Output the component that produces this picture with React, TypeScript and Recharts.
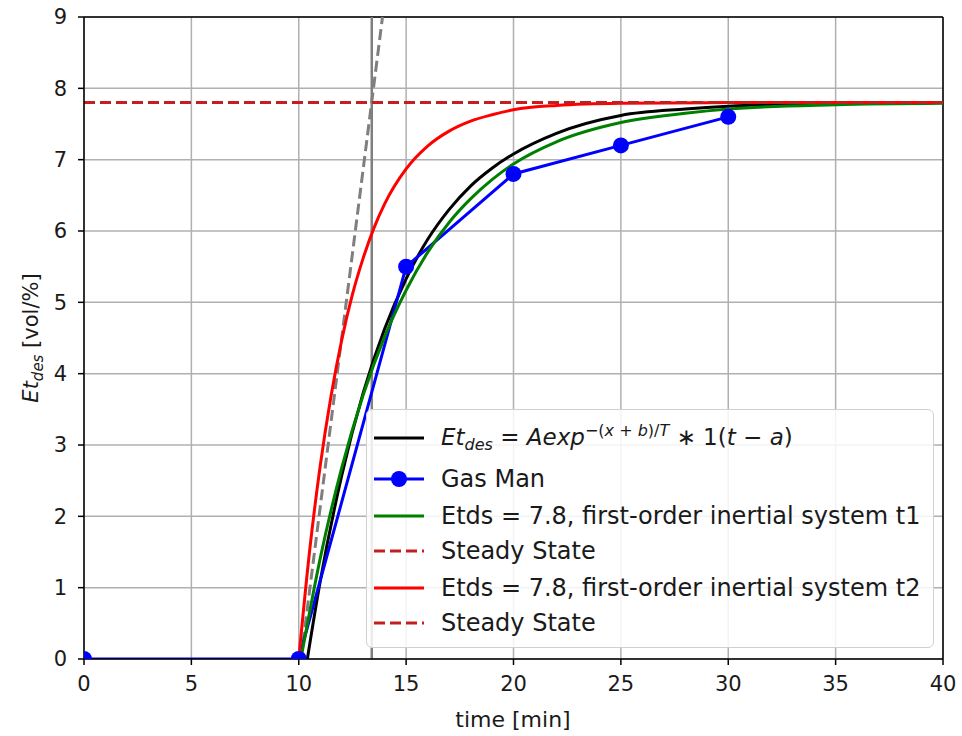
import { LineChart, Line, XAxis, YAxis, CartesianGrid, ReferenceLine } from 'recharts';

// time [min] / Et_des values
const gasManT = [0, 10, 15, 20, 25, 30];
const gasManV = [0, 0, 5.5, 6.8, 7.2, 7.6];

const blackT = [10.4, 11, 12, 13, 14, 15, 16, 17, 18, 19, 20, 22, 25, 28, 30, 35, 40];
const blackV = [0, 1.09, 2.57, 3.73, 4.63, 5.33, 5.88, 6.3, 6.63, 6.88, 7.08, 7.37, 7.62, 7.71, 7.75, 7.79, 7.8];

const greenT = [10.1, 11, 12, 13, 14, 15, 16, 17, 18, 19, 20, 22, 25, 28, 30, 35, 40];
const greenV = [0, 1.41, 2.68, 3.7, 4.52, 5.17, 5.7, 6.12, 6.45, 6.72, 6.94, 7.25, 7.52, 7.65, 7.71, 7.77, 7.79];

const redT = [10, 10.5, 11, 11.5, 12, 12.5, 13, 13.5, 14, 15, 16, 17, 18, 19, 20, 22, 25, 30, 35, 40];
const redV = [0, 1.5, 2.71, 3.68, 4.47, 5.11, 5.62, 6.04, 6.38, 6.87, 7.19, 7.4, 7.54, 7.63, 7.7, 7.76, 7.79, 7.8, 7.8, 7.8];

const steadyT = [0, 40];
const steadyV = [7.8, 7.8];

const tangentT = [10.1, 13.9];
const tangentV = [0, 9];

const markerT = 13.4;

const xTicks = [0, 5, 10, 15, 20, 25, 30, 35, 40];
const yTicks = [0, 1, 2, 3, 4, 5, 6, 7, 8, 9];

const toRows = (ts: number[], vs: number[]) => ts.map((t, i) => ({ t, v: vs[i] }));

const FONT = '"DejaVu Sans", sans-serif';

const YLabel = () => (
  <text
    x={38}
    y={338}
    transform="rotate(-90 38 338)"
    textAnchor="middle"
    fontSize={21}
    fill="#1a1a1a"
    fontFamily={FONT}
  >
    <tspan fontStyle="italic">Et</tspan>
    <tspan fontStyle="italic" fontSize={15} dy={5}>des</tspan>
    <tspan dy={-5}> [vol/%]</tspan>
  </text>
);

const XLabel = () => (
  <text x={513} y={727} textAnchor="middle" fontSize={22} fill="#1a1a1a" fontFamily={FONT}>
    time [min]
  </text>
);

const legendItems = [
  { color: '#000000', dash: false, dot: false, label: 'math' },
  { color: '#0000ff', dash: false, dot: true, label: 'Gas Man' },
  { color: '#008000', dash: false, dot: false, label: 'Etds = 7.8, first-order inertial system t1' },
  { color: '#c41e1e', dash: true, dot: false, label: 'Steady State' },
  { color: '#ff0000', dash: false, dot: false, label: 'Etds = 7.8, first-order inertial system t2' },
  { color: '#c41e1e', dash: true, dot: false, label: 'Steady State' },
];
const legendCenters = [28, 69, 106, 141, 178, 213];

function Legend() {
  return (
    <div
      style={{
        position: 'absolute',
        left: 366,
        top: 409,
        width: 566,
        height: 237,
        border: '1.5px solid #d0d0d0',
        borderRadius: 6,
        background: 'rgba(255,255,255,0.85)',
        fontFamily: FONT,
        fontSize: 24,
        color: '#1a1a1a',
      }}
    >
      {legendItems.map((it, i) => (
        <div
          key={i}
          style={{
            position: 'absolute',
            left: 6,
            top: legendCenters[i] - 18,
            height: 36,
            display: 'flex',
            alignItems: 'center',
            whiteSpace: 'nowrap',
          }}
        >
          <svg width={52} height={20} style={{ marginRight: 16 }}>
            <line
              x1={1}
              y1={10}
              x2={51}
              y2={10}
              stroke={it.color}
              strokeWidth={3}
              strokeDasharray={it.dash ? '11 5' : undefined}
            />
            {it.dot && <circle cx={26} cy={10} r={8} fill={it.color} />}
          </svg>
          {it.label === 'math' ? (
            <span style={{ fontSize: 23 }}>
              <i>Et</i>
              <sub style={{ fontStyle: 'italic', fontSize: 16 }}>des</sub>
              {' = '}
              <i>Aexp</i>
              <sup style={{ fontSize: 16 }}>
                −(<i>x</i> + <i>b</i>)/<i>T</i>
              </sup>
              {' ∗ 1('}
              <i>t</i>
              {' − '}
              <i>a</i>)
            </span>
          ) : (
            <span>{it.label}</span>
          )}
        </div>
      ))}
    </div>
  );
}

export default function App() {
  return (
    <div style={{ position: 'absolute', left: 0, top: 0, width: 962, height: 736, background: '#fff' }}>
      <LineChart
        width={962}
        height={736}
        margin={{ top: 17, right: 19, bottom: 42, left: 24 }}
        style={{ fontFamily: FONT }}
      >
        <CartesianGrid stroke="#b0b0b0" strokeWidth={1.5} vertical horizontal />
        <XAxis
          type="number"
          dataKey="t"
          domain={[0, 40]}
          ticks={xTicks}
          allowDataOverflow
          height={35}
          tickSize={6}
          tickMargin={11}
          tick={{ fontSize: 21, fill: '#1a1a1a', fontFamily: FONT }}
          tickLine={{ stroke: '#000', strokeWidth: 1.5 }}
          axisLine={{ stroke: '#000', strokeWidth: 1.5 }}
          label={<XLabel />}
        />
        <YAxis
          type="number"
          dataKey="v"
          domain={[0, 9]}
          ticks={yTicks}
          allowDataOverflow
          width={60}
          tickSize={6}
          tickMargin={11}
          tick={{ fontSize: 21, fill: '#1a1a1a', fontFamily: FONT }}
          tickLine={{ stroke: '#000', strokeWidth: 1.5 }}
          axisLine={{ stroke: '#000', strokeWidth: 1.5 }}
          label={<YLabel />}
        />
        <ReferenceLine x={40} stroke="#000" strokeWidth={1.5} />
        <ReferenceLine y={9} stroke="#000" strokeWidth={1.5} />
        <ReferenceLine x={markerT} stroke="#7f7f7f" strokeWidth={2.5} />
        <Line
          data={toRows(tangentT, tangentV)}
          dataKey="v"
          type="linear"
          stroke="#7f7f7f"
          strokeWidth={3}
          strokeDasharray="11 5"
          dot={false}
          isAnimationActive={false}
        />
        <Line
          data={toRows(blackT, blackV)}
          dataKey="v"
          type="monotone"
          stroke="#000000"
          strokeWidth={3}
          dot={false}
          isAnimationActive={false}
        />
        <Line
          data={toRows(gasManT, gasManV)}
          dataKey="v"
          type="linear"
          stroke="#0000ff"
          strokeWidth={3}
          dot={{ r: 8, fill: '#0000ff', stroke: '#0000ff', strokeWidth: 0 }}
          isAnimationActive={false}
        />
        <Line
          data={toRows(greenT, greenV)}
          dataKey="v"
          type="monotone"
          stroke="#008000"
          strokeWidth={3}
          dot={false}
          isAnimationActive={false}
        />
        <Line
          data={toRows(steadyT, steadyV)}
          dataKey="v"
          type="linear"
          stroke="#c41e1e"
          strokeWidth={3}
          strokeDasharray="11 5"
          dot={false}
          isAnimationActive={false}
        />
        <Line
          data={toRows(redT, redV)}
          dataKey="v"
          type="monotone"
          stroke="#ff0000"
          strokeWidth={3}
          dot={false}
          isAnimationActive={false}
        />
        <Line
          data={toRows(steadyT, steadyV)}
          dataKey="v"
          type="linear"
          stroke="#c41e1e"
          strokeWidth={3}
          strokeDasharray="11 5"
          dot={false}
          isAnimationActive={false}
        />
      </LineChart>
      <Legend />
    </div>
  );
}
